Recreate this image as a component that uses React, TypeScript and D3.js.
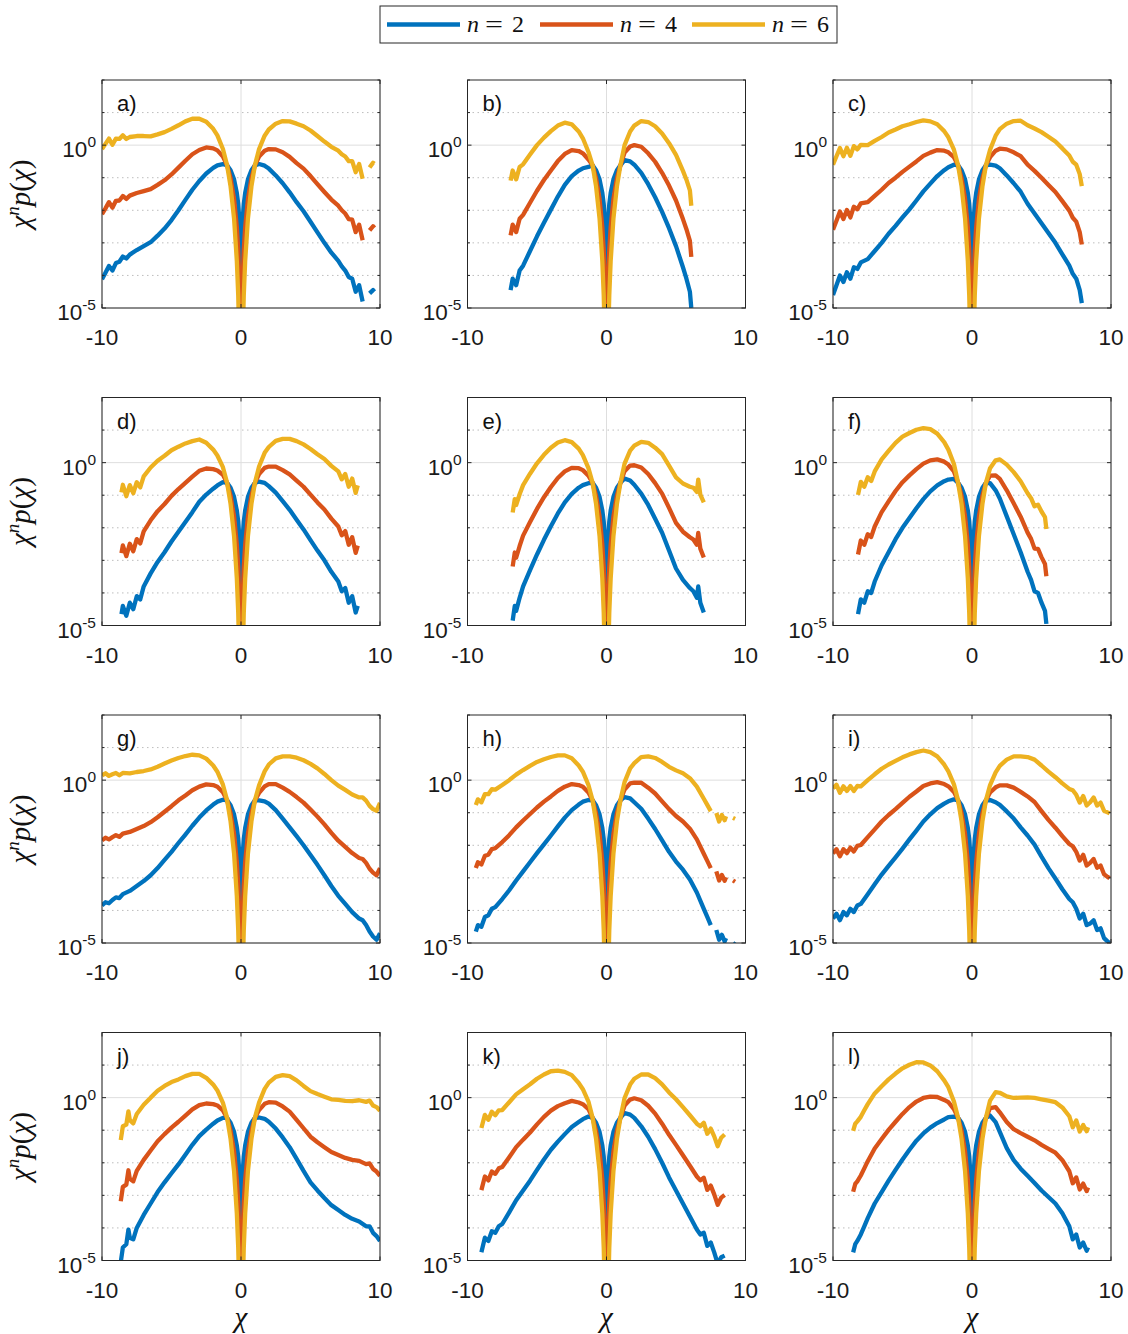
import React from "react";
import * as d3 from "d3";

// ---------- shared data ----------
const seriesNames = ["2", "4", "6"];
const seriesColors = ["#0072BD", "#D95319", "#EDB120"];
const panelLabels = ["a)", "b)", "c)", "d)", "e)", "f)", "g)", "h)", "i)", "j)", "k)", "l)"];
const xTicks = [-10, 0, 10];
const yTickExps = [-5, 0];
const yDecades = [-5, -4, -3, -2, -1, 0, 1, 2];

// central part (|chi| <= 1), log10 of chi^n p(chi)
const coreX = [-1, -0.75, -0.5, -0.3, -0.2, -0.1, -0.05, -0.02, -0.003, 0.003, 0.02, 0.05, 0.1, 0.2, 0.3, 0.5, 0.75, 1];
const coreN2 = [-0.62, -0.77, -1.05, -1.47, -1.81, -2.4, -3.0, -3.8, -5.45, -5.45, -3.8, -3.0, -2.4, -1.81, -1.47, -1.05, -0.77, -0.62];
const coreN4 = [-0.62, -1.02, -1.65, -2.52, -3.21, -4.4, -5.6, -7.2, -10.5, -10.5, -7.2, -5.6, -4.4, -3.21, -2.52, -1.65, -1.02, -0.62];
const coreN6 = [-0.62, -1.27, -2.25, -3.56, -4.61, -6.4, -8.2, -10.6, -15.5, -15.5, -10.6, -8.2, -6.4, -4.61, -3.56, -2.25, -1.27, -0.62];

// ---------- panel tails (log10 values) ----------
const aX = [-10, -9.75, -9.5, -9.25, -9, -8.75, -8.5, -8.25, -8, -7.5, -7, -6.5, -6, -5.5, -5, -4.5, -4, -3.5, -3, -2.5, -2, -1.7, -1.3, 1.3, 1.7, 2, 2.5, 3, 3.5, 4, 4.5, 5, 5.5, 6, 6.5, 7, 7.25, 7.5, 7.75, 8, 8.25, 8.5, 8.75, 9, 9.25, 9.5, 9.6];
const aN2 = [-4.12, -3.92, -3.71, -3.85, -3.62, -3.58, -3.42, -3.48, -3.36, -3.22, -3.1, -2.98, -2.78, -2.56, -2.3, -2.0, -1.68, -1.37, -1.1, -0.87, -0.7, -0.62, -0.58, -0.58, -0.63, -0.72, -0.93, -1.17, -1.45, -1.75, -2.03, -2.35, -2.68, -3.0, -3.3, -3.55, -3.72, -3.85, -4.05, -4.1, -4.5, -4.3, -4.8, null, -4.55, -4.45, -4.5];
const aN4 = [-2.12, -1.94, -1.75, -1.92, -1.71, -1.70, -1.56, -1.65, -1.55, -1.47, -1.41, -1.35, -1.22, -1.08, -0.90, -0.69, -0.48, -0.28, -0.15, -0.07, -0.10, -0.16, -0.35, -0.35, -0.17, -0.12, -0.13, -0.22, -0.36, -0.55, -0.72, -0.95, -1.2, -1.44, -1.67, -1.86, -2.0, -2.1, -2.27, -2.29, -2.67, -2.44, -2.92, null, -2.62, -2.49, -2.54];
const aN6 = [-0.12, 0.04, 0.20, 0.01, 0.20, 0.19, 0.30, 0.19, 0.25, 0.28, 0.28, 0.27, 0.33, 0.40, 0.50, 0.61, 0.73, 0.81, 0.81, 0.72, 0.50, 0.30, -0.12, -0.12, 0.29, 0.48, 0.66, 0.74, 0.73, 0.66, 0.58, 0.45, 0.28, 0.11, -0.05, -0.17, -0.28, -0.35, -0.49, -0.49, -0.83, -0.58, -1.03, null, -0.69, -0.54, -0.57];

const bX = [-6.9, -6.75, -6.5, -6.25, -6, -5.5, -5, -4.5, -4, -3.5, -3, -2.5, -2, -1.7, -1.3, 1.3, 1.7, 2, 2.5, 3, 3.5, 4, 4.5, 5, 5.5, 5.75, 6, 6.1];
const bN2 = [-4.45, -4.1, -4.3, -3.85, -3.7, -3.25, -2.8, -2.38, -1.98, -1.58, -1.22, -0.95, -0.78, -0.71, -0.67, -0.46, -0.5, -0.6, -0.85, -1.2, -1.6, -2.05, -2.55, -3.1, -3.75, -4.1, -4.5, -5.0];
const bN4 = [-2.77, -2.44, -2.67, -2.26, -2.14, -1.77, -1.40, -1.07, -0.78, -0.49, -0.27, -0.15, -0.18, -0.25, -0.44, -0.23, -0.04, 0.0, -0.05, -0.25, -0.51, -0.85, -1.24, -1.70, -2.27, -2.58, -2.94, -3.43];
const bN6 = [-1.09, -0.78, -1.05, -0.67, -0.59, -0.29, 0.0, 0.23, 0.43, 0.60, 0.69, 0.64, 0.42, 0.21, -0.21, 0.0, 0.42, 0.60, 0.74, 0.71, 0.58, 0.36, 0.06, -0.30, -0.79, -1.06, -1.39, -1.86];

const cX = [-10, -9.75, -9.5, -9.25, -9, -8.75, -8.5, -8.25, -8, -7.5, -7, -6.5, -6, -5.5, -5, -4.5, -4, -3.5, -3, -2.5, -2, -1.7, -1.3, 1.3, 1.7, 2, 2.5, 3, 3.5, 4, 4.5, 5, 5.5, 6, 6.5, 7, 7.25, 7.5, 7.75, 7.9];
const cN2 = [-4.6, -4.3, -4.0, -4.2, -3.9, -4.1, -3.75, -3.8, -3.6, -3.5, -3.25, -3.0, -2.72, -2.48, -2.22, -1.97, -1.7, -1.42, -1.18, -0.95, -0.77, -0.68, -0.6, -0.6, -0.63, -0.71, -0.93, -1.17, -1.43, -1.8, -2.1, -2.4, -2.7, -3.0, -3.35, -3.7, -3.95, -4.1, -4.45, -4.85];
const cN4 = [-2.6, -2.32, -2.04, -2.27, -1.99, -2.22, -1.89, -1.97, -1.79, -1.75, -1.56, -1.37, -1.16, -1.0, -0.82, -0.66, -0.5, -0.33, -0.23, -0.15, -0.17, -0.22, -0.37, -0.37, -0.17, -0.11, -0.13, -0.22, -0.34, -0.6, -0.79, -1.0, -1.22, -1.44, -1.72, -2.01, -2.23, -2.35, -2.67, -3.05];
const cN6 = [-0.6, -0.34, -0.09, -0.34, -0.08, -0.33, -0.03, -0.13, 0.01, 0.0, 0.13, 0.25, 0.39, 0.48, 0.58, 0.64, 0.71, 0.76, 0.73, 0.64, 0.43, 0.24, -0.14, -0.14, 0.29, 0.49, 0.66, 0.74, 0.75, 0.61, 0.51, 0.40, 0.26, 0.11, -0.10, -0.32, -0.51, -0.60, -0.89, -1.26];

const dX = [-8.6, -8.5, -8.25, -8, -7.75, -7.5, -7.25, -7, -6.5, -6, -5.5, -5, -4.5, -4, -3.5, -3, -2.5, -2, -1.7, -1.3, 1.3, 1.7, 2, 2.5, 3, 3.5, 4, 4.5, 5, 5.5, 6, 6.5, 7, 7.25, 7.5, 7.75, 8, 8.25, 8.4];
const dN2 = [-4.65, -4.4, -4.7, -4.3, -4.5, -4.1, -4.2, -3.8, -3.4, -3.05, -2.75, -2.42, -2.12, -1.82, -1.52, -1.2, -0.98, -0.8, -0.7, -0.6, -0.58, -0.62, -0.72, -0.92, -1.18, -1.45, -1.75, -2.05, -2.38, -2.7, -3.0, -3.35, -3.65, -3.95, -3.85, -4.3, -4.1, -4.6, -4.4];
const dN4 = [-2.78, -2.54, -2.87, -2.49, -2.72, -2.35, -2.48, -2.11, -1.77, -1.49, -1.27, -1.02, -0.81, -0.62, -0.43, -0.25, -0.18, -0.2, -0.24, -0.37, -0.35, -0.16, -0.12, -0.12, -0.23, -0.36, -0.55, -0.74, -0.98, -1.22, -1.44, -1.72, -1.96, -2.23, -2.1, -2.52, -2.29, -2.77, -2.55];
const dN6 = [-0.91, -0.68, -1.03, -0.69, -0.94, -0.6, -0.76, -0.42, -0.15, 0.06, 0.21, 0.38, 0.49, 0.59, 0.66, 0.71, 0.61, 0.4, 0.22, -0.14, -0.12, 0.3, 0.48, 0.67, 0.73, 0.73, 0.66, 0.56, 0.42, 0.26, 0.11, -0.1, -0.27, -0.51, -0.35, -0.74, -0.49, -0.93, -0.7];

const eX = [-6.75, -6.6, -6.5, -6.25, -6, -5.5, -5, -4.5, -4, -3.5, -3, -2.5, -2, -1.7, -1.3, 1.3, 1.7, 2, 2.5, 3, 3.5, 4, 4.5, 5, 5.5, 6, 6.25, 6.5, 6.6, 6.75, 7];
const eN2 = [-4.85, -4.4, -4.55, -4.15, -3.8, -3.3, -2.82, -2.37, -1.95, -1.56, -1.22, -0.96, -0.77, -0.69, -0.63, -0.49, -0.55, -0.68, -0.95, -1.3, -1.72, -2.15, -2.7, -3.25, -3.6, -3.85, -3.95, -4.15, -3.8, -4.3, -4.6];
const eN4 = [-3.19, -2.76, -2.92, -2.56, -2.24, -1.82, -1.42, -1.06, -0.75, -0.47, -0.27, -0.16, -0.17, -0.23, -0.4, -0.26, -0.09, -0.08, -0.15, -0.35, -0.63, -0.95, -1.39, -1.85, -2.12, -2.29, -2.36, -2.52, -2.16, -2.64, -2.91];
const eN6 = [-1.53, -1.12, -1.3, -0.97, -0.69, -0.34, -0.02, 0.24, 0.46, 0.62, 0.69, 0.63, 0.43, 0.23, -0.17, -0.03, 0.37, 0.52, 0.64, 0.61, 0.46, 0.26, -0.09, -0.45, -0.64, -0.74, -0.77, -0.9, -0.52, -0.98, -1.22];

const fX = [-8.2, -8, -7.75, -7.5, -7.25, -7, -6.5, -6, -5.5, -5, -4.5, -4, -3.5, -3, -2.5, -2, -1.7, -1.3, 1.3, 1.7, 2, 2.5, 3, 3.5, 4, 4.25, 4.5, 4.75, 5, 5.25, 5.35];
const fN2 = [-4.65, -4.2, -4.3, -3.95, -4.0, -3.65, -3.15, -2.75, -2.35, -2.0, -1.7, -1.4, -1.12, -0.88, -0.7, -0.57, -0.52, -0.5, -0.63, -0.85, -1.1, -1.65, -2.2, -2.75, -3.35, -3.6, -3.95, -4.0, -4.3, -4.55, -4.95];
const fN4 = [-2.82, -2.39, -2.52, -2.2, -2.28, -1.96, -1.52, -1.19, -0.87, -0.6, -0.39, -0.2, -0.03, 0.07, 0.1, 0.03, -0.06, -0.27, -0.4, -0.39, -0.5, -0.85, -1.25, -1.66, -2.15, -2.34, -2.64, -2.65, -2.9, -3.11, -3.49];
const fN6 = [-0.99, -0.59, -0.74, -0.45, -0.56, -0.27, 0.1, 0.36, 0.61, 0.8, 0.91, 1.01, 1.06, 1.03, 0.89, 0.63, 0.4, -0.04, -0.17, 0.07, 0.1, -0.06, -0.29, -0.57, -0.94, -1.09, -1.34, -1.29, -1.5, -1.67, -2.04];

const gX = [-10, -9.75, -9.5, -9.25, -9, -8.75, -8.5, -8, -7.5, -7, -6.5, -6, -5.5, -5, -4.5, -4, -3.5, -3, -2.5, -2, -1.7, -1.3, 1.3, 1.7, 2, 2.5, 3, 3.5, 4, 4.5, 5, 5.5, 6, 6.5, 7, 7.5, 8, 8.5, 8.75, 9, 9.25, 9.5, 9.75, 10];
const gN2 = [-3.85, -3.75, -3.78, -3.68, -3.6, -3.62, -3.5, -3.4, -3.25, -3.1, -2.92, -2.7, -2.45, -2.2, -1.93, -1.67, -1.4, -1.15, -0.93, -0.75, -0.66, -0.6, -0.62, -0.65, -0.72, -0.92, -1.18, -1.45, -1.72, -2.0, -2.3, -2.6, -2.92, -3.25, -3.55, -3.8, -4.05, -4.25, -4.3, -4.45, -4.65, -4.8, -4.9, -4.7];
const gN4 = [-1.85, -1.77, -1.82, -1.75, -1.69, -1.74, -1.64, -1.59, -1.5, -1.41, -1.29, -1.14, -0.97, -0.8, -0.62, -0.47, -0.31, -0.2, -0.13, -0.15, -0.2, -0.37, -0.39, -0.19, -0.12, -0.12, -0.23, -0.36, -0.52, -0.69, -0.9, -1.12, -1.36, -1.62, -1.86, -2.05, -2.24, -2.39, -2.42, -2.54, -2.72, -2.84, -2.92, -2.7];
const gN6 = [0.15, 0.21, 0.13, 0.18, 0.22, 0.15, 0.22, 0.21, 0.25, 0.28, 0.33, 0.41, 0.51, 0.6, 0.68, 0.74, 0.78, 0.76, 0.66, 0.45, 0.26, -0.14, -0.16, 0.27, 0.48, 0.67, 0.73, 0.73, 0.69, 0.61, 0.5, 0.36, 0.19, 0.0, -0.17, -0.3, -0.44, -0.53, -0.53, -0.63, -0.79, -0.89, -0.94, -0.7];

const hX = [-9.4, -9.25, -9, -8.75, -8.5, -8.25, -8, -7.5, -7, -6.5, -6, -5.5, -5, -4.5, -4, -3.5, -3, -2.5, -2, -1.7, -1.3, 1.3, 1.7, 2, 2.5, 3, 3.5, 4, 4.5, 5, 5.5, 6, 6.5, 7, 7.25, 7.5, 7.7, 7.9, 8.1, 8.3, 8.5, 8.6, 8.8, 9.1, 9.25];
const hN2 = [-4.65, -4.45, -4.5, -4.2, -4.15, -3.95, -3.9, -3.65, -3.38, -3.08, -2.8, -2.52, -2.24, -1.97, -1.7, -1.42, -1.15, -0.92, -0.75, -0.66, -0.61, -0.52, -0.56, -0.68, -0.88, -1.18, -1.5, -1.85, -2.2, -2.5, -2.75, -3.05, -3.45, -3.95, -4.2, -4.45, null, -4.6, -4.9, -4.75, -4.95, -4.85, null, -5.0, -5.05];
const hN4 = [-2.7, -2.52, -2.59, -2.32, -2.29, -2.12, -2.09, -1.9, -1.69, -1.45, -1.24, -1.04, -0.84, -0.66, -0.5, -0.33, -0.2, -0.12, -0.15, -0.2, -0.38, -0.29, -0.1, -0.08, -0.08, -0.23, -0.41, -0.65, -0.89, -1.1, -1.27, -1.49, -1.82, -2.26, -2.48, -2.7, null, -2.8, -3.08, -2.91, -3.09, -2.98, null, -3.08, -3.12];
const hN6 = [-0.76, -0.59, -0.68, -0.43, -0.43, -0.28, -0.29, -0.15, 0.0, 0.17, 0.31, 0.44, 0.56, 0.64, 0.71, 0.76, 0.76, 0.67, 0.45, 0.26, -0.15, -0.06, 0.36, 0.52, 0.71, 0.73, 0.68, 0.56, 0.41, 0.3, 0.21, 0.06, -0.2, -0.57, -0.76, -0.95, null, -1.01, -1.27, -1.07, -1.23, -1.11, null, -1.16, -1.19];

const iX = [-10, -9.75, -9.5, -9.25, -9, -8.75, -8.5, -8.25, -8, -7.5, -7, -6.5, -6, -5.5, -5, -4.5, -4, -3.5, -3, -2.5, -2, -1.7, -1.3, 1.3, 1.7, 2, 2.5, 3, 3.5, 4, 4.5, 5, 5.5, 6, 6.5, 7, 7.25, 7.5, 7.75, 8, 8.25, 8.5, 8.75, 9, 9.25, 9.5, 9.75, 9.9];
const iN2 = [-4.25, -4.1, -4.3, -4.05, -4.15, -3.95, -4.05, -3.85, -3.8, -3.5, -3.2, -2.9, -2.63, -2.37, -2.1, -1.82, -1.55, -1.27, -1.05, -0.86, -0.72, -0.65, -0.59, -0.61, -0.68, -0.76, -0.96, -1.18, -1.45, -1.7, -1.98, -2.35, -2.7, -3.02, -3.35, -3.65, -3.75, -3.95, -4.25, -4.1, -4.45, -4.4, -4.3, -4.6, -4.55, -4.85, -4.95, -5.0];
const iN4 = [-2.25, -2.12, -2.34, -2.12, -2.24, -2.07, -2.19, -2.02, -1.99, -1.75, -1.51, -1.27, -1.07, -0.89, -0.7, -0.51, -0.35, -0.18, -0.1, -0.06, -0.12, -0.19, -0.36, -0.38, -0.22, -0.16, -0.16, -0.23, -0.36, -0.5, -0.67, -0.95, -1.22, -1.46, -1.72, -1.96, -2.03, -2.2, -2.47, -2.29, -2.62, -2.54, -2.42, -2.69, -2.62, -2.89, -2.97, -3.01];
const iN6 = [-0.25, -0.14, -0.39, -0.19, -0.33, -0.18, -0.33, -0.18, -0.19, 0.0, 0.18, 0.35, 0.48, 0.59, 0.7, 0.79, 0.86, 0.91, 0.86, 0.73, 0.48, 0.27, -0.13, -0.15, 0.24, 0.44, 0.63, 0.73, 0.73, 0.71, 0.63, 0.45, 0.26, 0.09, -0.1, -0.27, -0.31, -0.45, -0.69, -0.49, -0.78, -0.68, -0.53, -0.78, -0.69, -0.94, -0.99, -1.02];

const jX = [-8.65, -8.5, -8.25, -8.1, -8, -7.75, -7.5, -7, -6.5, -6, -5.5, -5, -4.5, -4, -3.5, -3, -2.5, -2, -1.7, -1.3, 1.3, 1.7, 2, 2.5, 3, 3.5, 4, 4.5, 5, 5.5, 6, 6.5, 7, 7.5, 8, 8.5, 9, 9.25, 9.5, 9.75, 10];
const jN2 = [-5.05, -4.6, -4.5, -4.05, -4.3, -4.35, -4.0, -3.6, -3.25, -2.9, -2.6, -2.32, -2.05, -1.75, -1.45, -1.18, -0.98, -0.8, -0.7, -0.62, -0.61, -0.65, -0.74, -0.95, -1.22, -1.52, -1.88, -2.25, -2.6, -2.85, -3.08, -3.3, -3.45, -3.6, -3.72, -3.8, -3.95, -3.95, -4.15, -4.25, -4.4];
const jN4 = [-3.18, -2.74, -2.67, -2.23, -2.49, -2.57, -2.25, -1.91, -1.62, -1.34, -1.12, -0.92, -0.74, -0.55, -0.36, -0.23, -0.18, -0.2, -0.24, -0.39, -0.38, -0.19, -0.14, -0.15, -0.27, -0.43, -0.68, -0.94, -1.2, -1.37, -1.52, -1.67, -1.76, -1.85, -1.91, -1.94, -2.04, -2.02, -2.19, -2.27, -2.4];
const jN6 = [-1.3, -0.88, -0.83, -0.42, -0.69, -0.79, -0.5, -0.22, 0.0, 0.21, 0.36, 0.48, 0.56, 0.66, 0.73, 0.73, 0.61, 0.4, 0.22, -0.16, -0.15, 0.27, 0.46, 0.64, 0.69, 0.66, 0.53, 0.36, 0.2, 0.11, 0.03, -0.05, -0.07, -0.1, -0.11, -0.08, -0.13, -0.09, -0.24, -0.29, -0.4];

const kX = [-9, -8.75, -8.5, -8.25, -8, -7.75, -7.5, -7, -6.5, -6, -5.5, -5, -4.5, -4, -3.5, -3, -2.5, -2, -1.7, -1.3, 1.3, 1.7, 2, 2.5, 3, 3.5, 4, 4.5, 5, 5.5, 6, 6.5, 6.75, 7, 7.25, 7.5, 7.75, 8, 8.25, 8.5];
const kN2 = [-4.75, -4.3, -4.4, -4.1, -4.15, -3.95, -3.88, -3.52, -3.15, -2.85, -2.55, -2.22, -1.9, -1.6, -1.35, -1.12, -0.9, -0.75, -0.66, -0.58, -0.47, -0.52, -0.62, -0.88, -1.2, -1.58, -2.0, -2.45, -2.85, -3.25, -3.65, -4.05, -4.2, -4.15, -4.55, -4.45, -4.75, -5.1, -4.9, -4.85];
const kN4 = [-2.84, -2.42, -2.54, -2.27, -2.34, -2.17, -2.13, -1.83, -1.52, -1.29, -1.07, -0.82, -0.59, -0.4, -0.26, -0.17, -0.1, -0.15, -0.2, -0.35, -0.24, -0.06, -0.02, -0.08, -0.25, -0.49, -0.8, -1.14, -1.45, -1.77, -2.09, -2.42, -2.54, -2.46, -2.83, -2.7, -2.97, -3.29, -3.07, -2.99];
const kN6 = [-0.93, -0.53, -0.68, -0.43, -0.54, -0.39, -0.38, -0.14, 0.1, 0.26, 0.41, 0.58, 0.71, 0.81, 0.83, 0.79, 0.69, 0.45, 0.26, -0.12, -0.01, 0.4, 0.58, 0.71, 0.71, 0.6, 0.41, 0.16, -0.05, -0.29, -0.54, -0.8, -0.88, -0.77, -1.11, -0.95, -1.19, -1.49, -1.23, -1.13];

const lX = [-8.55, -8.4, -8.25, -8, -7.75, -7.5, -7, -6.5, -6, -5.5, -5, -4.5, -4, -3.5, -3, -2.5, -2, -1.7, -1.3, 1.3, 1.7, 2, 2.5, 3, 3.5, 4, 4.5, 5, 5.5, 6, 6.5, 7, 7.25, 7.5, 7.75, 8, 8.25, 8.35];
const lN2 = [-4.75, -4.5, -4.4, -4.2, -3.95, -3.7, -3.25, -2.9, -2.55, -2.22, -1.9, -1.6, -1.32, -1.1, -0.92, -0.78, -0.67, -0.6, -0.58, -0.55, -0.75, -1.05, -1.55, -1.92, -2.18, -2.4, -2.62, -2.85, -3.05, -3.25, -3.55, -3.95, -4.35, -4.2, -4.6, -4.45, -4.7, -4.6];
const lN4 = [-2.89, -2.65, -2.57, -2.39, -2.17, -1.95, -1.56, -1.27, -0.99, -0.74, -0.5, -0.29, -0.12, -0.01, 0.03, 0.02, -0.07, -0.14, -0.35, -0.32, -0.29, -0.45, -0.75, -0.97, -1.09, -1.2, -1.31, -1.45, -1.57, -1.69, -1.92, -2.26, -2.63, -2.45, -2.82, -2.64, -2.87, -2.76];
const lN6 = [-1.02, -0.8, -0.73, -0.59, -0.39, -0.2, 0.13, 0.35, 0.56, 0.74, 0.9, 1.01, 1.09, 1.08, 0.99, 0.81, 0.53, 0.32, -0.12, -0.09, 0.17, 0.15, 0.04, -0.01, 0.0, 0.01, -0.01, -0.05, -0.09, -0.14, -0.3, -0.57, -0.91, -0.7, -1.04, -0.84, -1.03, -0.91];

const panelData = [
  [aX, aN2, aN4, aN6], [bX, bN2, bN4, bN6], [cX, cN2, cN4, cN6],
  [dX, dN2, dN4, dN6], [eX, eN2, eN4, eN6], [fX, fN2, fN4, fN6],
  [gX, gN2, gN4, gN6], [hX, hN2, hN4, hN6], [iX, iN2, iN4, iN6],
  [jX, jN2, jN4, jN6], [kX, kN2, kN4, kN6], [lX, lN2, lN4, lN6],
];
const coreData = [coreN2, coreN4, coreN6];

// ---------- layout ----------
const W = 1128, H = 1334;
const PW = 278, PH = 228;
const colLefts = [102, 467.5, 833];
const rowTops = [80, 397.5, 715, 1032.5];
const AXIS_COLOR = "#262626";
const SANS = "'Liberation Sans', Arial, Helvetica, sans-serif";
const SERIF = "'Liberation Serif', 'Times New Roman', serif";

type Pt = { x: number; e: number | null };

function buildSeries(xs: number[], vals: (number | null)[], core: number[], label: string): Pt[] {
  if (xs.length !== vals.length) throw new Error(`length mismatch in panel ${label}: ${xs.length} vs ${vals.length}`);
  const pts: Pt[] = xs.map((x, i) => ({ x, e: vals[i] }));
  coreX.forEach((x, i) => pts.push({ x, e: core[i] }));
  pts.sort((a, b) => a.x - b.x);
  return pts;
}

function PanelView({ idx }: { idx: number }) {
  const col = idx % 3;
  const row = Math.floor(idx / 3);
  const left = colLefts[col];
  const top = rowTops[row];
  const [xs, n2, n4, n6] = panelData[idx] as any;
  const seriesVals = [n2, n4, n6];
  const x = d3.scaleLinear().domain([-10, 10]).range([0, PW]);
  const y = d3.scaleLog().domain([1e-5, 1e2]).range([PH, 0]);
  const line = d3
    .line<Pt>()
    .defined((d) => d.e !== null)
    .x((d) => x(d.x))
    .y((d) => y(Math.pow(10, d.e as number)));
  const clipId = `clip-${idx}`;
  return (
    <g transform={`translate(${left},${top})`}>
      <defs>
        <clipPath id={clipId}>
          <rect x={0} y={0} width={PW} height={PH} />
        </clipPath>
      </defs>
      <rect x={0} y={0} width={PW} height={PH} fill="#ffffff" />
      {/* minor dotted grid */}
      {yDecades
        .filter((e) => !yTickExps.includes(e) && e < 2)
        .map((e) => (
          <line key={`mg${e}`} x1={0} x2={PW} y1={y(Math.pow(10, e))} y2={y(Math.pow(10, e))}
            stroke="#bdbdbd" strokeWidth={1} strokeDasharray="1.5,3.5" />
        ))}
      {/* major grid */}
      {yTickExps.map((e) => (
        <line key={`Mg${e}`} x1={0} x2={PW} y1={y(Math.pow(10, e))} y2={y(Math.pow(10, e))}
          stroke="#dedede" strokeWidth={1} />
      ))}
      {xTicks.map((t) => (
        <line key={`xg${t}`} x1={x(t)} x2={x(t)} y1={0} y2={PH} stroke="#dedede" strokeWidth={1} />
      ))}
      {/* data */}
      <g clipPath={`url(#${clipId})`}>
        {seriesVals.map((vals, si) => (
          <path key={si} d={line(buildSeries(xs, vals, coreData[si], panelLabels[idx])) || ""}
            fill="none" stroke={seriesColors[si]} strokeWidth={4.3} strokeLinejoin="round" strokeLinecap="butt" />
        ))}
      </g>
      {/* ticks */}
      {xTicks.map((t) => (
        <g key={`xt${t}`}>
          <line x1={x(t)} x2={x(t)} y1={PH} y2={PH - 4} stroke={AXIS_COLOR} />
          <line x1={x(t)} x2={x(t)} y1={0} y2={4} stroke={AXIS_COLOR} />
        </g>
      ))}
      {yDecades.map((e) => {
        const len = yTickExps.includes(e) ? 4 : 2.5;
        const yy = y(Math.pow(10, e));
        return (
          <g key={`yt${e}`}>
            <line x1={0} x2={len} y1={yy} y2={yy} stroke={AXIS_COLOR} />
            <line x1={PW} x2={PW - len} y1={yy} y2={yy} stroke={AXIS_COLOR} />
          </g>
        );
      })}
      <rect x={0} y={0} width={PW} height={PH} fill="none" stroke={AXIS_COLOR} strokeWidth={1} />
      {/* tick labels */}
      {xTicks.map((t) => (
        <text key={`xl${t}`} x={x(t)} y={PH + 37} textAnchor="middle" fontFamily={SANS} fontSize={22.5} fill="#1a1a1a">
          {t < 0 ? `-${Math.abs(t)}` : `${t}`}
        </text>
      ))}
      {yTickExps.map((e) => (
        <text key={`yl${e}`} x={-6} y={y(Math.pow(10, e)) + 12} textAnchor="end" fontFamily={SANS} fontSize={22.5} fill="#1a1a1a">
          <tspan>10</tspan>
          <tspan fontSize={15.5} dy={-10}>{`${e}`}</tspan>
        </text>
      ))}
      {/* panel label */}
      <text x={15} y={31} fontFamily={SANS} fontSize={22} fill="#111">{panelLabels[idx]}</text>
      {/* axis labels */}
      {col === 0 && (
        <text transform={`translate(${30 - left},${PH / 2}) rotate(-90)`} textAnchor="middle"
          fontFamily={SERIF} fontSize={29} fill="#111">
          <tspan fontStyle="italic">χ</tspan>
          <tspan fontStyle="italic" fontSize={19} dy={-11}>n</tspan>
          <tspan fontStyle="italic" dy={11}>p</tspan>
          <tspan>(</tspan>
          <tspan fontStyle="italic">χ</tspan>
          <tspan>)</tspan>
        </text>
      )}
      {row === 3 && (
        <text x={PW / 2} y={PH + 66} textAnchor="middle" fontFamily={SERIF} fontSize={29} fontStyle="italic" fill="#111">
          χ
        </text>
      )}
    </g>
  );
}

function Legend() {
  const lx = 380, ly = 6, lw = 457, lh = 37;
  const entryStarts = [387, 540, 692];
  return (
    <g>
      <rect x={lx} y={ly} width={lw} height={lh} fill="#fff" stroke={AXIS_COLOR} strokeWidth={1} />
      {seriesNames.map((n, i) => {
        const sx = entryStarts[i];
        return (
          <g key={n}>
            <line x1={sx} x2={sx + 73} y1={24.5} y2={24.5} stroke={seriesColors[i]} strokeWidth={4.5} />
            <text x={sx + 80} y={32} fontFamily={SERIF} fontSize={24} fontStyle="italic" fill="#111">n</text>
            <text x={sx + 98} y={32} fontFamily={SERIF} fontSize={24} fill="#111" textLength={18} lengthAdjust="spacingAndGlyphs">=</text>
            <text x={sx + 125} y={32} fontFamily={SERIF} fontSize={24} fill="#111">{n}</text>
          </g>
        );
      })}
    </g>
  );
}

export default function App() {
  return (
    <svg width={W} height={H} viewBox={`0 0 ${W} ${H}`} style={{ position: "absolute", left: 0, top: 0, background: "#fff" }}>
      <rect x={0} y={0} width={W} height={H} fill="#fff" />
      <Legend />
      {panelLabels.map((_, i) => (
        <PanelView key={i} idx={i} />
      ))}
    </svg>
  );
}
